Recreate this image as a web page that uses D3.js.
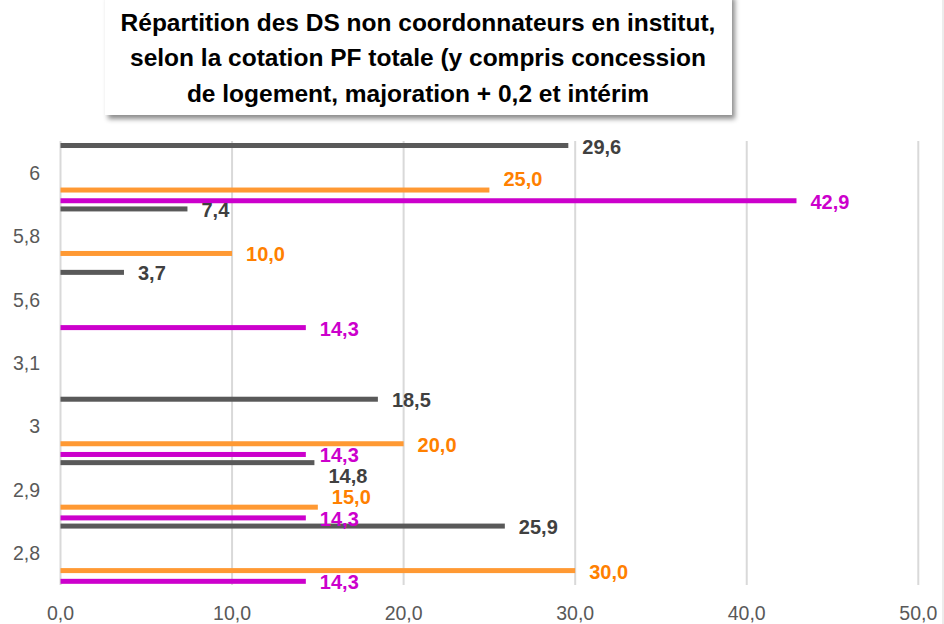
<!DOCTYPE html>
<html>
<head>
<meta charset="utf-8">
<script src="https://cdn.jsdelivr.net/npm/d3@7"></script>
<style>
    body { margin: 0; background: #fff; }
    #chart { width: 944px; height: 624px; }
    .catLabel, .tickLabel { font-family: "Liberation Sans", Arial, sans-serif; font-size: 19.5px; fill: #595959; }
    .valueLabel { font-family: "Liberation Sans", Arial, sans-serif; font-size: 20px; font-weight: bold; }
    .title { font-family: "Liberation Sans Narrow", "Liberation Sans", Arial, sans-serif; font-size: 24.5px; font-weight: bold; fill: #000; }
</style>
</head>
<body>
<div id="chart"></div>
<script>
// chart data (top category first)
const categories = ["6", "5,8", "5,6", "3,1", "3", "2,9", "2,8"];
const seriesKeys = ["s1", "s2", "s3"];
const s1Values = [29.6, 7.4, 3.7, null, 18.5, 14.8, 25.9];   // dark grey
const s2Values = [25.0, 10.0, null, null, 20.0, 15.0, 30.0]; // orange
const s3Values = [42.9, null, 14.3, null, 14.3, 14.3, 14.3]; // magenta
const xTicks = [0, 10, 20, 30, 40, 50];
const titleLines = [
    "Répartition des DS non coordonnateurs en institut,",
    "selon la cotation PF totale (y compris concession",
    "de logement, majoration  + 0,2 et intérim"
];

// label nudges where labels were moved to avoid overlaps
const labelNudge = { "s2|6": -12, "s1|2,9": 12, "s2|2,9": -11 };

const width = 944, height = 624;
const margin = { top: 141, left: 60.5, right: 25.7, bottom: 39 };

const barColor = { s1: "#595959", s2: "#ff9933", s3: "#cc00cc" };
const textColor = { s1: "#404040", s2: "#ff8000", s3: "#cc00cc" };

const svg = d3.select("#chart")
    .append("svg")
    .attr("width", width)
    .attr("height", height);

const fmt = v => d3.format(".1f")(v).replace(".", ",");

// scales
const xScale = d3.scaleLinear()
    .domain([0, 50])
    .range([margin.left, width - margin.right]);

const yScale = d3.scaleBand()
    .domain(categories)
    .range([margin.top, height - margin.bottom]);

// position of each series inside a category band (fraction of band)
const slot = d3.scaleOrdinal()
    .domain(seriesKeys)
    .range([0.071, 0.773, 0.942]);

const barH = 5;

// gridlines
svg.append("g")
    .selectAll("line")
    .data(xTicks)
    .enter()
    .append("line")
    .attr("x1", d => xScale(d))
    .attr("x2", d => xScale(d))
    .attr("y1", margin.top)
    .attr("y2", height - margin.bottom)
    .attr("stroke", "#d9d9d9")
    .attr("stroke-width", 2);

// x tick labels
svg.append("g")
    .selectAll("text")
    .data(xTicks)
    .enter()
    .append("text")
    .attr("class", "tickLabel")
    .attr("x", d => xScale(d))
    .attr("y", 613)
    .attr("text-anchor", "middle")
    .attr("dominant-baseline", "central")
    .text(d => fmt(d));

// category labels
svg.append("g")
    .selectAll("text")
    .data(categories)
    .enter()
    .append("text")
    .attr("class", "catLabel")
    .attr("x", 40)
    .attr("y", d => yScale(d) + yScale.bandwidth() / 2)
    .attr("text-anchor", "end")
    .attr("dominant-baseline", "central")
    .text(d => d);

// flatten the data
const valuesByKey = { s1: s1Values, s2: s2Values, s3: s3Values };
const bars = [];
seriesKeys.forEach(k => {
    categories.forEach((c, i) => {
        const v = valuesByKey[k][i];
        if (v != null) bars.push({ key: k, cat: c, value: v });
    });
});

const barY = d => yScale(d.cat) + yScale.bandwidth() * slot(d.key);

svg.append("g")
    .selectAll("rect")
    .data(bars)
    .enter()
    .append("rect")
    .attr("x", xScale(0))
    .attr("y", d => barY(d) - barH / 2)
    .attr("width", d => xScale(d.value) - xScale(0))
    .attr("height", barH)
    .attr("fill", d => barColor[d.key]);

svg.append("g")
    .selectAll("text")
    .data(bars)
    .enter()
    .append("text")
    .attr("class", "valueLabel")
    .attr("x", d => xScale(d.value) + 14)
    .attr("y", d => barY(d) + (labelNudge[d.key + "|" + d.cat] || 0) + 1)
    .attr("dominant-baseline", "central")
    .attr("fill", d => textColor[d.key])
    .text(d => fmt(d.value));

// faint right border
svg.append("line")
    .attr("x1", 943).attr("x2", 943)
    .attr("y1", 0).attr("y2", height)
    .attr("stroke", "#e6e6e6")
    .attr("stroke-width", 1.5);

// title box with shadow
const defs = svg.append("defs");
const f = defs.append("filter").attr("id", "shadow")
    .attr("x", "-10%").attr("y", "-10%").attr("width", "120%").attr("height", "130%");
f.append("feDropShadow")
    .attr("dx", 3).attr("dy", 4)
    .attr("stdDeviation", 2.5)
    .attr("flood-color", "#000")
    .attr("flood-opacity", 0.45);

svg.append("rect")
    .attr("x", 105)
    .attr("y", -6)
    .attr("width", 627)
    .attr("height", 121)
    .attr("fill", "#fff")
    .attr("filter", "url(#shadow)");

svg.append("g")
    .selectAll("text")
    .data(titleLines)
    .enter()
    .append("text")
    .attr("class", "title")
    .attr("x", 418)
    .attr("y", (d, i) => 22 + i * 35.5)
    .attr("text-anchor", "middle")
    .attr("dominant-baseline", "central")
    .text(d => d);
</script>
</body>
</html>
